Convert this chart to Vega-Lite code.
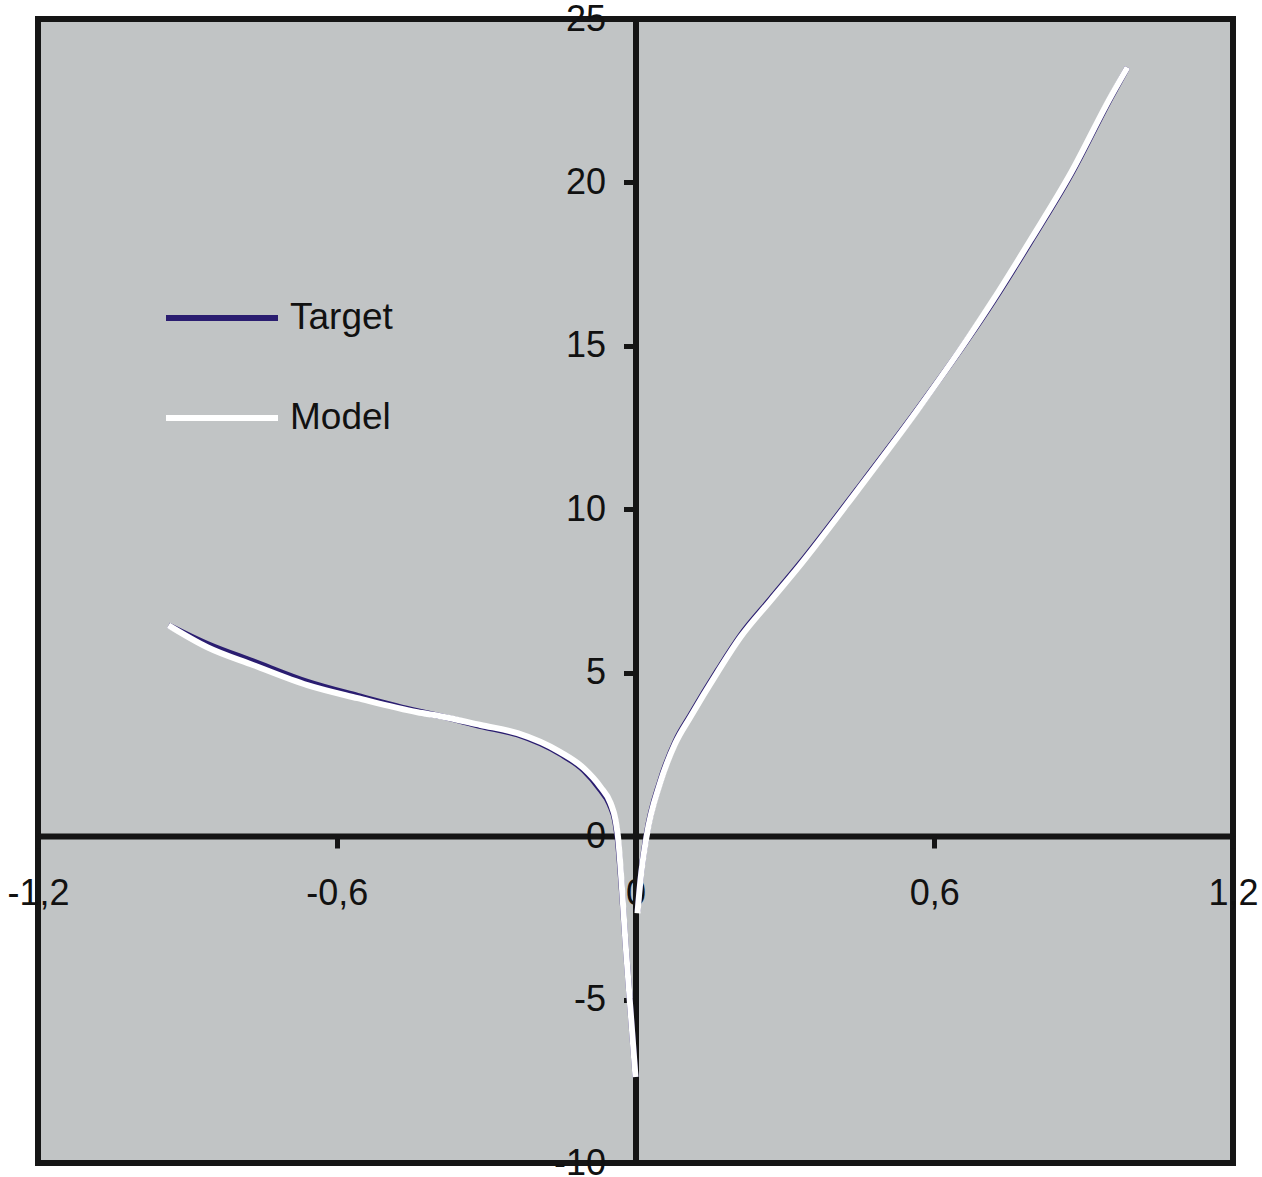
{
  "$schema": "https://vega.github.io/schema/vega-lite/v6.json",
  "autosize": {"type": "none"},
  "padding": {"left": 38, "top": 19, "right": 29, "bottom": 14},
  "width": 1195,
  "height": 1144,
  "background": "#ffffff",
  "config": {
    "view": {"fill": "#c1c4c5", "stroke": "#151515", "strokeWidth": 6},
    "axis": {
      "labelFont": "Liberation Sans",
      "labelFontSize": 36,
      "labelColor": "#111111",
      "domainColor": "#151515",
      "domainWidth": 6,
      "tickColor": "#151515",
      "tickWidth": 5,
      "tickSize": 12,
      "grid": false,
      "title": null,
      "labelOverlap": false,
      "labelBound": false,
      "labelFlush": false
    }
  },
  "datasets": {
    "target": [
      {"series": "Target", "branch": "L", "x": -0.938, "y": 6.45},
      {"series": "Target", "branch": "L", "x": -0.860, "y": 5.88},
      {"series": "Target", "branch": "L", "x": -0.767, "y": 5.34},
      {"series": "Target", "branch": "L", "x": -0.659, "y": 4.72},
      {"series": "Target", "branch": "L", "x": -0.558, "y": 4.29},
      {"series": "Target", "branch": "L", "x": -0.438, "y": 3.82},
      {"series": "Target", "branch": "L", "x": -0.392, "y": 3.67},
      {"series": "Target", "branch": "L", "x": -0.311, "y": 3.37},
      {"series": "Target", "branch": "L", "x": -0.237, "y": 3.11},
      {"series": "Target", "branch": "L", "x": -0.151, "y": 2.52},
      {"series": "Target", "branch": "L", "x": -0.104, "y": 2.02},
      {"series": "Target", "branch": "L", "x": -0.072, "y": 1.45},
      {"series": "Target", "branch": "L", "x": -0.052, "y": 0.98},
      {"series": "Target", "branch": "L", "x": -0.041, "y": 0.47},
      {"series": "Target", "branch": "L", "x": -0.037, "y": 0.08},
      {"series": "Target", "branch": "L", "x": -0.018, "y": -3.7},
      {"series": "Target", "branch": "L", "x": 0.0, "y": -7.37},
      {"series": "Target", "branch": "R", "x": 0.004, "y": -2.3},
      {"series": "Target", "branch": "R", "x": 0.010, "y": -1.3},
      {"series": "Target", "branch": "R", "x": 0.022, "y": 0.02},
      {"series": "Target", "branch": "R", "x": 0.050, "y": 1.70},
      {"series": "Target", "branch": "R", "x": 0.080, "y": 2.89},
      {"series": "Target", "branch": "R", "x": 0.110, "y": 3.69},
      {"series": "Target", "branch": "R", "x": 0.165, "y": 5.07},
      {"series": "Target", "branch": "R", "x": 0.211, "y": 6.14},
      {"series": "Target", "branch": "R", "x": 0.271, "y": 7.25},
      {"series": "Target", "branch": "R", "x": 0.331, "y": 8.35},
      {"series": "Target", "branch": "R", "x": 0.446, "y": 10.62},
      {"series": "Target", "branch": "R", "x": 0.566, "y": 13.05},
      {"series": "Target", "branch": "R", "x": 0.667, "y": 15.20},
      {"series": "Target", "branch": "R", "x": 0.719, "y": 16.38},
      {"series": "Target", "branch": "R", "x": 0.793, "y": 18.18},
      {"series": "Target", "branch": "R", "x": 0.874, "y": 20.23},
      {"series": "Target", "branch": "R", "x": 0.954, "y": 22.58},
      {"series": "Target", "branch": "R", "x": 0.988, "y": 23.52}
    ],
    "model": [
      {"series": "Model", "branch": "L", "x": -0.938, "y": 6.45},
      {"series": "Model", "branch": "L", "x": -0.860, "y": 5.78},
      {"series": "Model", "branch": "L", "x": -0.767, "y": 5.23},
      {"series": "Model", "branch": "L", "x": -0.659, "y": 4.62},
      {"series": "Model", "branch": "L", "x": -0.558, "y": 4.22},
      {"series": "Model", "branch": "L", "x": -0.438, "y": 3.79},
      {"series": "Model", "branch": "L", "x": -0.392, "y": 3.67},
      {"series": "Model", "branch": "L", "x": -0.311, "y": 3.40},
      {"series": "Model", "branch": "L", "x": -0.237, "y": 3.15},
      {"series": "Model", "branch": "L", "x": -0.151, "y": 2.57},
      {"series": "Model", "branch": "L", "x": -0.104, "y": 2.08},
      {"series": "Model", "branch": "L", "x": -0.070, "y": 1.50},
      {"series": "Model", "branch": "L", "x": -0.050, "y": 1.01},
      {"series": "Model", "branch": "L", "x": -0.040, "y": 0.49},
      {"series": "Model", "branch": "L", "x": -0.036, "y": 0.09},
      {"series": "Model", "branch": "L", "x": -0.018, "y": -3.7},
      {"series": "Model", "branch": "L", "x": 0.0, "y": -7.37},
      {"series": "Model", "branch": "R", "x": 0.004, "y": -2.36},
      {"series": "Model", "branch": "R", "x": 0.010, "y": -1.35},
      {"series": "Model", "branch": "R", "x": 0.022, "y": -0.03},
      {"series": "Model", "branch": "R", "x": 0.050, "y": 1.65},
      {"series": "Model", "branch": "R", "x": 0.080, "y": 2.84},
      {"series": "Model", "branch": "R", "x": 0.110, "y": 3.64},
      {"series": "Model", "branch": "R", "x": 0.165, "y": 5.02},
      {"series": "Model", "branch": "R", "x": 0.211, "y": 6.09},
      {"series": "Model", "branch": "R", "x": 0.271, "y": 7.20},
      {"series": "Model", "branch": "R", "x": 0.331, "y": 8.30},
      {"series": "Model", "branch": "R", "x": 0.446, "y": 10.58},
      {"series": "Model", "branch": "R", "x": 0.566, "y": 13.03},
      {"series": "Model", "branch": "R", "x": 0.667, "y": 15.22},
      {"series": "Model", "branch": "R", "x": 0.719, "y": 16.42},
      {"series": "Model", "branch": "R", "x": 0.793, "y": 18.23},
      {"series": "Model", "branch": "R", "x": 0.874, "y": 20.28},
      {"series": "Model", "branch": "R", "x": 0.954, "y": 22.61},
      {"series": "Model", "branch": "R", "x": 0.988, "y": 23.52}
    ]
  },
  "encoding": {
    "x": {
      "field": "x", "type": "quantitative",
      "scale": {"domain": [-1.2, 1.2], "nice": false, "zero": false},
      "axis": {
        "orient": "bottom",
        "offset": -327,
        "values": [-1.2, -0.6, 0, 0.6, 1.2],
        "labelExpr": "replace(toString(datum.value), '.', ',')",
        "labelPadding": 28
      }
    },
    "y": {
      "field": "y", "type": "quantitative",
      "scale": {"domain": [-10, 25], "nice": false, "zero": false},
      "axis": {
        "orient": "left",
        "offset": -597.5,
        "values": [-10, -5, 0, 5, 10, 15, 20, 25],
        "labelExpr": "toString(datum.value)",
        "labelPadding": 18
      }
    },
    "color": {
      "field": "series", "type": "nominal",
      "scale": {"domain": ["Target", "Model"], "range": ["#2a1d70", "#ffffff"]},
      "legend": {
        "title": null,
        "orient": "none",
        "legendX": 125,
        "legendY": 240,
        "padding": 0,
        "symbolType": "stroke",
        "symbolSize": 12544,
        "symbolStrokeWidth": 6,
        "labelFont": "Liberation Sans",
        "labelFontSize": 37,
        "labelColor": "#111111",
        "labelOffset": 9,
        "rowPadding": 23
      }
    },
    "detail": {"field": "branch", "type": "nominal"}
  },
  "layer": [
    {"data": {"name": "target"}, "mark": {"type": "line", "strokeWidth": 6, "strokeCap": "butt", "interpolate": "monotone"}},
    {"data": {"name": "model"}, "mark": {"type": "line", "strokeWidth": 6, "strokeCap": "butt", "interpolate": "monotone"}}
  ]
}
